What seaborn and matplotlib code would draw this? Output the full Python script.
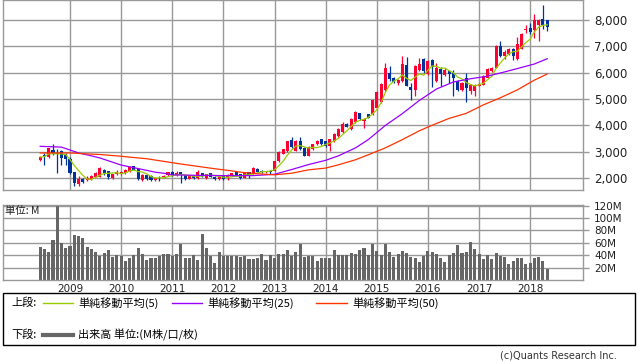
import numpy as np
import pandas as pd
import matplotlib
matplotlib.use("Agg")
import matplotlib.pyplot as plt
import seaborn as sns
from matplotlib.patches import Rectangle
from matplotlib.lines import Line2D

plt.rcParams['font.family'] = ['DejaVu Sans', 'Noto Sans CJK JP']

# ---------------- data (monthly, Jun 2008 .. May 2018) ----------------
start_month = "2008-06"
opens = [2700, 2880, 2810, 3080, 2975, 3040, 2880,
         2740, 2220, 1780, 1960, 1935, 1960, 2065, 2065, 2300, 2260, 2000, 2155,
         2170, 2195, 2260, 2455, 2350, 1935, 2105, 2090, 1935, 2065, 2040, 2105,
         2245, 2105, 2220, 2105, 1975, 2090, 2000, 2195, 2000, 2195, 2065, 1975,
         2090, 2065, 2090, 2220, 2165, 2025, 2220, 2190, 2360, 2280, 2230, 2280,
         2280, 2640, 2935, 3025, 3435, 3050, 3410, 3155, 2860, 3090, 3280, 3470,
         3400, 3215, 3405, 3595, 3750, 4075, 3850, 4125, 4455, 4170, 4420, 4420,
         4650, 4900, 5350, 5975, 5810, 5615, 5680, 6280, 5460, 5360, 6090, 6510,
         5940, 6500, 5700, 6150, 5900, 6060, 6000, 5680, 5360, 5810, 5300, 5300,
         5510, 5550, 5810, 6060, 6190, 7000, 6640, 6700, 6900, 6510, 6900, 7620,
         7710, 7600, 7800, 8030, 7990]
highs = [2850, 2960, 3150, 3300, 3090, 3060, 2960,
         2800, 2240, 2100, 2000, 2100, 2110, 2220, 2420, 2350, 2280, 2180, 2300,
         2260, 2350, 2460, 2480, 2380, 2150, 2130, 2110, 2050, 2080, 2110, 2240,
         2260, 2270, 2240, 2120, 2120, 2110, 2300, 2210, 2170, 2210, 2080, 2060,
         2110, 2150, 2210, 2240, 2180, 2250, 2240, 2410, 2380, 2320, 2290, 2320,
         2660, 3020, 3120, 3430, 3580, 3440, 3570, 3180, 3210, 3300, 3440, 3490,
         3420, 3500, 3700, 3900, 4120, 4100, 4280, 4530, 4490, 4290, 4440, 4980,
         5290, 5600, 6350, 6255, 5830, 5780, 6640, 6600, 5600, 6300, 6550, 6550,
         6480, 6520, 6380, 6200, 6180, 6100, 6100, 5720, 5640, 6000, 5580, 5560,
         5600, 5900, 6160, 6220, 7050, 7200, 6850, 6930, 6950, 7350, 7500, 7820,
         7900, 8220, 8020, 8550, 8000]
lows = [2650, 2490, 2780, 2900, 2190, 2520, 2510,
        2150, 1700, 1720, 1830, 1880, 1930, 2040, 2040, 2140, 1990, 1960, 2130,
        2140, 2170, 2240, 2300, 1930, 1910, 1950, 1900, 1910, 1900, 2020, 2090,
        2080, 2090, 1805, 1950, 1960, 1980, 1990, 2060, 1980, 2040, 1950, 1950,
        1940, 1935, 2070, 2070, 1980, 2000, 2025, 2170, 2230, 2200, 2210, 2170,
        2260, 2620, 2910, 3000, 3150, 3030, 3060, 2830, 2840, 3070, 3260, 3250,
        3200, 3030, 3380, 3570, 3720, 3930, 3830, 4100, 4200, 3910, 4270, 4400,
        4620, 4870, 5300, 5700, 5600, 5530, 5650, 5480, 4980, 5100, 6050, 6000,
        5900, 5450, 5650, 5490, 5880, 5615, 5100, 5300, 5300, 4900, 5200, 5100,
        5480, 5520, 5790, 6040, 6160, 6600, 6520, 6680, 6500, 6480, 6880, 7500,
        7480, 7300, 7200, 7650, 7590]
closes = [2800, 2840, 3130, 2950, 2910, 2780, 2715,
          2195, 1805, 1975, 1870, 2025, 2090, 2195, 2390, 2195, 2065, 2155, 2235,
          2230, 2325, 2430, 2325, 1960, 2130, 1975, 1935, 2025, 2040, 2090, 2220,
          2105, 2195, 2105, 1975, 2105, 2000, 2220, 2105, 2155, 2065, 1975, 2040,
          1960, 2130, 2190, 2090, 2000, 2230, 2130, 2385, 2255, 2230, 2270, 2220,
          2640, 3000, 3090, 3410, 3180, 3410, 3090, 2860, 3190, 3280, 3410, 3280,
          3240, 3470, 3680, 3875, 4040, 3950, 4250, 4500, 4230, 4240, 4290, 4950,
          5260, 5560, 6180, 5745, 5640, 5705, 6320, 5510, 5360, 6260, 6320, 6060,
          6450, 6200, 6180, 5940, 6100, 5940, 5810, 5360, 5615, 5420, 5550, 5550,
          5575, 5870, 6130, 6190, 7025, 6640, 6800, 6900, 6620, 7090, 7470, 7650,
          7525, 8000, 8000, 7800, 7750]
volume_m = [53.5, 50, 45, 65, 120, 60, 52,
            55, 73, 71, 68, 53, 50, 45, 38, 44, 49, 37, 40,
            39, 31, 36, 40, 52, 42, 33, 35, 36, 39, 42, 42,
            39, 42, 58, 36, 36, 40, 32, 75, 52, 39, 28, 45,
            39, 39, 39, 39, 37, 39, 34, 34, 35, 42, 32, 40,
            35, 42, 42, 49, 39, 45, 58, 37, 39, 39, 31, 36,
            35, 36, 49, 40, 40, 40, 44, 42, 49, 52, 40, 58,
            47, 40, 58, 45, 37, 42, 47, 44, 37, 36, 29, 39,
            47, 45, 42, 36, 29, 40, 44, 57, 44, 45, 62, 50,
            42, 34, 40, 34, 44, 39, 37, 26, 31, 36, 36, 26,
            28, 36, 37, 31, 18]
# moving averages (month index, value)
ma25_month = [0, 5, 7, 9, 12, 14, 19, 22, 25, 27, 29, 31, 37, 44, 50, 55, 59, 63,
              67, 70, 74, 77, 81, 85, 89, 93, 97, 101, 105, 109, 113, 116, 119]
ma25_value = [3210, 3180, 3070, 2960, 2850, 2770, 2500, 2400, 2300, 2230, 2190, 2130,
              2110, 2100, 2100, 2150, 2330, 2520, 2680, 2850, 3150, 3465, 4000, 4450,
              4950, 5380, 5650, 5770, 5870, 6030, 6200, 6330, 6530]
ma50_month = [0, 7, 10, 14, 19, 21, 25, 29, 33, 37, 41, 45, 47, 51, 55, 59, 63, 67,
              70, 74, 77, 81, 85, 89, 92, 96, 100, 104, 108, 112, 116, 119]
ma50_value = [2960, 2960, 2930, 2900, 2835, 2800, 2740, 2640, 2540, 2450, 2360, 2280,
              2230, 2170, 2130, 2190, 2320, 2385, 2510, 2700, 2890, 3150, 3465, 3800,
              4010, 4270, 4460, 4780, 5050, 5350, 5720, 5950]
years = list(range(2009, 2019))
price_ticks = [2000, 3000, 4000, 5000, 6000, 7000, 8000]
vol_ticks = [20, 40, 60, 80, 100, 120]

# ---------------- figure ----------------
W, H = 638, 362
fig = plt.figure(figsize=(W / 100, H / 100), dpi=100)
fig.patch.set_facecolor('white')


def fx(px):
    return px / W


def fy(py):
    return 1 - py / H


ax = fig.add_axes([fx(3), fy(190), (583 - 3) / W, 190 / H])
axv = fig.add_axes([fx(3), fy(280), (583 - 3) / W, 75 / H])

GRID = '#999999'
RED = '#ff0033'
BLUE = '#003399'

df = pd.DataFrame({'open': opens, 'high': highs, 'low': lows, 'close': closes,
                   'volume': volume_m})
df['m'] = np.arange(len(df))
df['ma5'] = df['close'].rolling(5, min_periods=1).mean()
up = df['close'] >= df['open']
cols = np.where(up, RED, BLUE)

# candles
ax.vlines(df['m'], df['low'], df['high'], colors=cols, linewidth=0.9, zorder=2)
body_lo = np.minimum(df['open'], df['close'])
body_h = np.maximum(np.abs(df['close'] - df['open']), 25)
ax.bar(df['m'], body_h, bottom=body_lo, width=0.72, color=cols, linewidth=0, zorder=2)

# moving averages
sns.lineplot(x=df['m'], y=df['ma5'], color='#99cc00', linewidth=0.9, ax=ax, zorder=3)
sns.lineplot(x=ma25_month, y=ma25_value, color='#9900ff', linewidth=0.9, ax=ax, zorder=3)
sns.lineplot(x=ma50_month, y=ma50_value, color='#ff3300', linewidth=0.9, ax=ax, zorder=3)

# volume
sns.barplot(x=df['m'], y=df['volume'], color='#666666', saturation=1, width=0.72,
            native_scale=True, errorbar=None, ax=axv, zorder=2, linewidth=0)

jan_idx = [7 + 12 * k for k in range(len(years))]
xlim = (-8.73, 127.4)
for a in (ax, axv):
    a.set_xlim(*xlim)
    a.set_xlabel('')
    a.set_ylabel('')
    a.set_axisbelow(True)
    for s in a.spines.values():
        s.set_color(GRID)
        s.set_linewidth(1)
    a.set_xticks(jan_idx)
    a.grid(True, color=GRID, linewidth=1)
    a.yaxis.tick_right()
    a.tick_params(axis='y', which='both', length=4, width=1, color=GRID, pad=4,
                  labelcolor='#222222')
    a.tick_params(axis='x', length=0)

ax.set_ylim(1555, 8755)
ax.set_yticks(price_ticks)
ax.set_yticklabels([f'{v:,}' for v in price_ticks], fontsize=8.5)
ax.set_xticklabels([])

axv.set_ylim(0, 121)
axv.set_yticks(vol_ticks)
axv.set_yticklabels([f'{v}M' for v in vol_ticks], fontsize=7.5)
axv.set_xticklabels([str(y) for y in years], fontsize=7.5, color='#222222')
axv.tick_params(axis='x', pad=3)
axv.text(0.004, 0.92, '単位: M', transform=axv.transAxes, ha='left', va='center',
         fontsize=7.5, family=['Noto Sans CJK JP', 'DejaVu Sans'], color='#222222')

# ---------------- legend box ----------------
fig.patches.append(Rectangle((fx(3), fy(345)), (635 - 3) / W, (345 - 293) / H,
                             transform=fig.transFigure, fill=False,
                             edgecolor='black', linewidth=1))
cjk = ['Noto Sans CJK JP', 'DejaVu Sans']
r1, r2 = 303, 335
fs = 8
fig.text(fx(11), fy(r1), '上段:', fontsize=fs, family=cjk, va='center')
fig.text(fx(11), fy(r2), '下段:', fontsize=fs, family=cjk, va='center')
items = [(43, 73, 78, '#99cc00', '単純移動平均(5)'),
         (172, 202, 207, '#9900ff', '単純移動平均(25)'),
         (316, 347, 352, '#ff3300', '単純移動平均(50)')]
for x0, x1, xt, c, lab in items:
    fig.lines.append(Line2D([fx(x0), fx(x1)], [fy(r1), fy(r1)], color=c, linewidth=1,
                            transform=fig.transFigure))
    fig.text(fx(xt), fy(r1), lab, fontsize=fs, family=cjk, va='center')
fig.lines.append(Line2D([fx(43), fx(73)], [fy(r2), fy(r2)], color='#666666', linewidth=3,
                        transform=fig.transFigure))
fig.text(fx(78), fy(r2), '出来高 単位:(M株/口/枚)', fontsize=fs, family=cjk, va='center')

fig.text(fx(617), fy(356), '(c)Quants Research Inc.', fontsize=7, ha='right', va='center',
         color='#333333')

fig.savefig('out.png', dpi=100, facecolor='white')
